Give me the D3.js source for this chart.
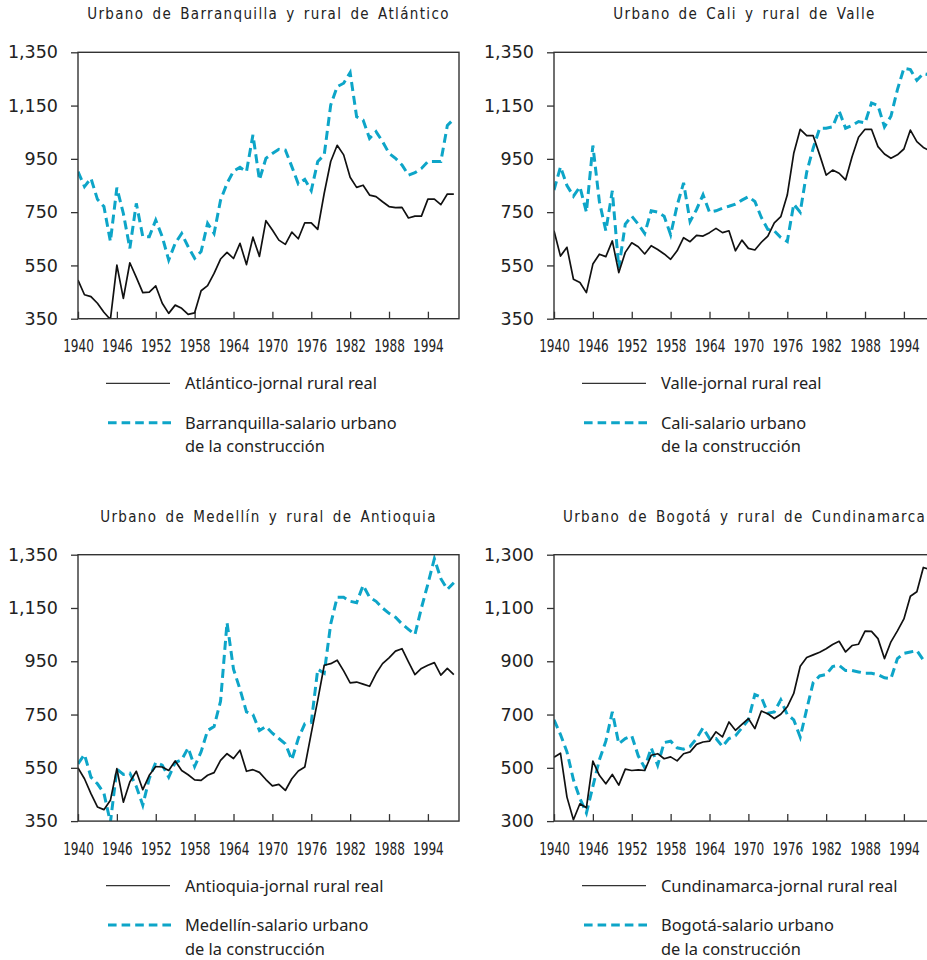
<!DOCTYPE html>
<html>
<head>
<meta charset="utf-8">
<script src="https://cdnjs.cloudflare.com/ajax/libs/d3/7.8.5/d3.min.js"></script>
<style>
  body { margin: 0; background: #fff; }
  .title { font-family: "DejaVu Sans Condensed", sans-serif; font-size: 15px; letter-spacing: 1.35px; word-spacing: 2.5px; fill: #222; }
  .legend { font-family: "Noto Sans", sans-serif; font-size: 16.4px; fill: #222; }
</style>
</head>
<body>
<div id="graph"></div>
<script>

var years = [1940, 1941, 1942, 1943, 1944, 1945, 1946, 1947, 1948, 1949,
             1950, 1951, 1952, 1953, 1954, 1955, 1956, 1957, 1958, 1959,
             1960, 1961, 1962, 1963, 1964, 1965, 1966, 1967, 1968, 1969,
             1970, 1971, 1972, 1973, 1974, 1975, 1976, 1977, 1978, 1979,
             1980, 1981, 1982, 1983, 1984, 1985, 1986, 1987, 1988, 1989,
             1990, 1991, 1992, 1993, 1994, 1995, 1996, 1997, 1998];

// jornal rural real
var atlantico = [495, 440, 433, 408, 374, 347, 551, 426, 560, 505,
                 448, 450, 473, 408, 370, 401, 389, 366, 372, 455,
                 474, 520, 574, 599, 576, 633, 553, 656, 584, 718,
                 683, 645, 629, 675, 650, 710, 710, 685, 821, 940,
                 1001, 965, 881, 843, 851, 814, 808, 789, 771, 767,
                 768, 728, 735, 735, 799, 799, 778, 818, 818];

var valle = [680, 585, 618, 498, 486, 448, 555, 592, 583, 642,
             523, 599, 635, 620, 593, 624, 610, 593, 573, 605,
             654, 639, 663, 660, 673, 689, 673, 680, 605, 645,
             614, 608, 637, 660, 710, 733, 814, 971, 1061, 1037,
             1037, 965, 889, 908, 896, 871, 958, 1031, 1061, 1061,
             996, 968, 952, 965, 987, 1058, 1015, 993, 980];

var antioquia = [550, 509, 453, 403, 393, 428, 547, 421, 497, 537,
                 468, 522, 555, 553, 540, 576, 540, 524, 505, 503,
                 522, 532, 578, 603, 585, 616, 537, 543, 533, 506,
                 482, 488, 465, 509, 538, 553, 680, 804, 935, 941,
                 954, 914, 869, 872, 864, 856, 904, 941, 963, 988,
                 997, 948, 900, 923, 935, 945, 898, 923, 900];

var cundinamarca = [540, 555, 390, 305, 365, 350, 525, 472, 440, 475,
                    435, 495, 490, 492, 490, 547, 553, 534, 541, 526,
                    553, 560, 588, 597, 600, 635, 616, 672, 641, 663,
                    685, 647, 713, 703, 685, 701, 729, 779, 881, 914,
                    924, 934, 947, 963, 975, 935, 959, 964, 1013, 1012,
                    985, 910, 973, 1014, 1059, 1144, 1161, 1252, 1245];

// salario urbano de la construccion
var barranquilla = [902, 846, 877, 798, 771, 640, 842, 745, 614, 783,
                    658, 658, 720, 658, 570, 633, 670, 620, 577, 602,
                    708, 670, 795, 858, 904, 918, 902, 1040, 871, 952,
                    970, 986, 983, 921, 856, 873, 831, 940, 965, 1152,
                    1221, 1234, 1274, 1108, 1096, 1027, 1052, 1015, 971, 952,
                    927, 889, 898, 914, 940, 940, 940, 1075, 1100];

var cali = [833, 920, 850, 810, 845, 750, 1000, 790, 680, 830,
            540, 705, 735, 705, 670, 755, 750, 735, 665, 775,
            860, 715, 760, 815, 750, 755, 765, 772, 780, 795,
            808, 790, 730, 685, 680, 655, 640, 780, 750, 900,
            990, 1065, 1065, 1070, 1130, 1065, 1075, 1090, 1085, 1160,
            1150, 1070, 1110, 1210, 1290, 1285, 1245, 1270, 1265];

var medellin = [565, 600, 515, 490, 455, 345, 545, 525, 530, 480,
                410, 510, 570, 560, 515, 570, 580, 625, 555, 610,
                690, 705, 800, 1095, 920, 845, 760, 750, 690, 705,
                680, 660, 640, 580, 660, 715, 720, 920, 905, 1090,
                1190, 1190, 1175, 1170, 1235, 1190, 1175, 1150, 1130, 1115,
                1090, 1070, 1050, 1150, 1240, 1335, 1260, 1220, 1245];

var bogota = [680, 625, 560, 455, 385, 330, 430, 530, 600, 710,
              590, 610, 620, 545, 500, 575, 510, 595, 600, 575,
              570, 580, 610, 650, 610, 610, 580, 610, 620, 650,
              680, 775, 765, 705, 710, 755, 700, 680, 615, 720,
              820, 845, 850, 880, 885, 865, 865, 860, 855, 855,
              850, 838, 835, 910, 930, 935, 940, 905, 900];

var titles = ["Urbano de Barranquilla y rural de Atlántico",
              "Urbano de Cali y rural de Valle",
              "Urbano de Medellín y rural de Antioquia",
              "Urbano de Bogotá y rural de Cundinamarca"];

var ruralNames = ["Atlántico-jornal rural real", "Valle-jornal rural real",
                  "Antioquia-jornal rural real", "Cundinamarca-jornal rural real"];

var urbanNames = ["Barranquilla-salario urbano", "Cali-salario urbano",
                  "Medellín-salario urbano", "Bogotá-salario urbano"];

var urbanNames2 = "de la construcción";

var xTicks = [1940, 1946, 1952, 1958, 1964, 1970, 1976, 1982, 1988, 1994];
var yTicks350 = [350, 550, 750, 950, 1150, 1350];
var yTicks300 = [300, 500, 700, 900, 1100, 1300];


var width = 927;
var height = 960;

var plotW = 381;
var plotH = 266.4;
var colX = [78, 554];
var rowY = [52.3, 554.7];

var blue = "#0da5c8";

var panels = [
    { title: titles[0], rural: atlantico, urban: barranquilla, ruralName: ruralNames[0], urbanName: urbanNames[0], yTicks: yTicks350, col: 0, row: 0 },
    { title: titles[1], rural: valle, urban: cali, ruralName: ruralNames[1], urbanName: urbanNames[1], yTicks: yTicks350, col: 1, row: 0 },
    { title: titles[2], rural: antioquia, urban: medellin, ruralName: ruralNames[2], urbanName: urbanNames[2], yTicks: yTicks350, col: 0, row: 1 },
    { title: titles[3], rural: cundinamarca, urban: bogota, ruralName: ruralNames[3], urbanName: urbanNames[3], yTicks: yTicks300, col: 1, row: 1 }
];

var svg = d3.select("#graph")
  .append("svg")
    .attr("width", width)
    .attr("height", height)
    .style("display", "block");

var x = d3.scaleLinear()
    .domain([1940, 1998.8])
    .range([0, plotW]);

panels.forEach(function(p, i) {

    var y = d3.scaleLinear()
        .domain([p.yTicks[0], p.yTicks[p.yTicks.length - 1]])
        .range([plotH, 0]);

    var g = svg.append("g")
        .attr("transform", "translate(" + colX[p.col] + "," + rowY[p.row] + ")");

    g.append("clipPath")
        .attr("id", "clip" + i)
      .append("rect")
        .attr("width", plotW)
        .attr("height", plotH);

    g.append("text")
        .attr("class", "title")
        .attr("x", plotW / 2)
        .attr("y", -33)
        .attr("text-anchor", "middle")
        .text(p.title);

    // y axis, ticks pointing out
    var yAxis = g.append("g")
        .call(d3.axisLeft(y).tickValues(p.yTicks).tickSize(7).tickPadding(13).tickFormat(d3.format(",")));
    yAxis.select(".domain").remove();
    yAxis.selectAll("line").attr("stroke", "#333").attr("stroke-width", 1.3);
    yAxis.selectAll("text")
        .attr("fill", "#222")
        .style("font-family", "DejaVu Sans, sans-serif")
        .style("font-size", "17.5px");

    // x axis, ticks pointing in, labels squeezed like the original
    var xAxis = g.append("g")
        .attr("transform", "translate(0," + plotH + ")")
        .call(d3.axisBottom(x).tickValues(xTicks).tickSize(-7).tickPadding(21.5).tickFormat(d3.format("d")));
    xAxis.select(".domain").remove();
    xAxis.selectAll("line").attr("stroke", "#333").attr("stroke-width", 1.3);
    xAxis.selectAll("text")
        .attr("fill", "#222")
        .attr("transform", "scale(0.79,1)")
        .style("font-family", "DejaVu Sans Condensed, sans-serif")
        .style("font-size", "17px");

    var line = d3.line()
        .x(function(d, j) { return x(years[j]); })
        .y(function(d) { return y(d); });

    var lines = g.append("g")
        .attr("clip-path", "url(#clip" + i + ")");

    lines.append("path")
        .datum(p.urban)
        .attr("fill", "none")
        .attr("stroke", blue)
        .attr("stroke-width", 3)
        .attr("stroke-dasharray", "9,5")
        .attr("d", line);

    lines.append("path")
        .datum(p.rural)
        .attr("fill", "none")
        .attr("stroke", "#111")
        .attr("stroke-width", 1.7)
        .attr("stroke-linejoin", "round")
        .attr("d", line);

    g.append("rect")
        .attr("width", plotW)
        .attr("height", plotH)
        .attr("fill", "none")
        .attr("stroke", "#333")
        .attr("stroke-width", 1.4);

    // legend
    var lg = g.append("g")
        .attr("transform", "translate(0," + plotH + ")");

    lg.append("line")
        .attr("x1", 28).attr("x2", 92)
        .attr("y1", 64.6).attr("y2", 64.6)
        .attr("stroke", "#333")
        .attr("stroke-width", 1.3);

    lg.append("text")
        .attr("class", "legend")
        .attr("x", 107)
        .attr("y", 70.5)
        .text(p.ruralName);

    lg.append("line")
        .attr("x1", 30).attr("x2", 93)
        .attr("y1", 104).attr("y2", 104)
        .attr("stroke", blue)
        .attr("stroke-width", 3)
        .attr("stroke-dasharray", "8.6,5");

    lg.append("text")
        .attr("class", "legend")
        .attr("x", 107)
        .attr("y", 110)
        .text(p.urbanName);

    lg.append("text")
        .attr("class", "legend")
        .attr("x", 107)
        .attr("y", 133.5)
        .text(urbanNames2);
});

</script>
</body>
</html>
